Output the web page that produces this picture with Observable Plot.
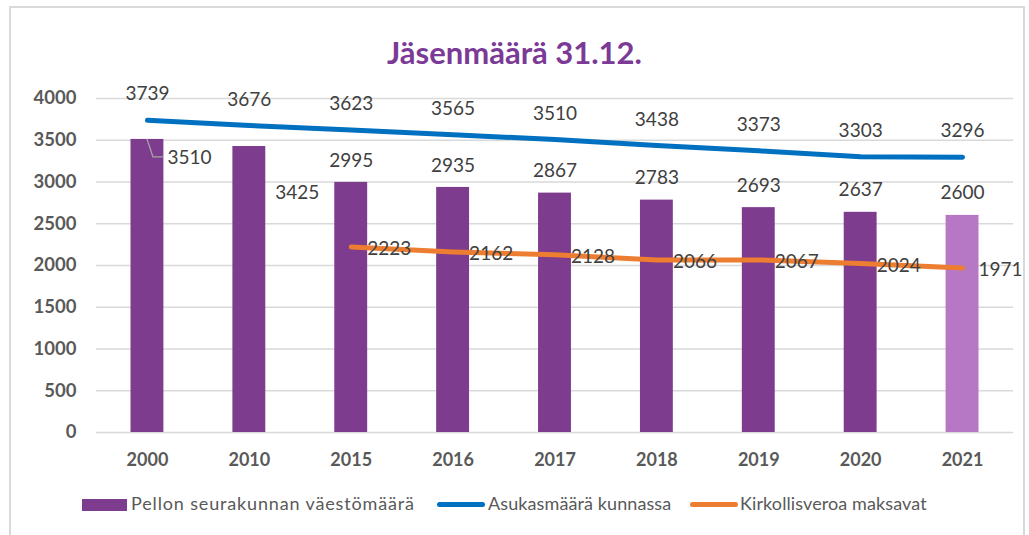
<!DOCTYPE html>
<html><head><meta charset="utf-8">
<script src="https://cdn.jsdelivr.net/npm/d3@7"></script>
<script src="https://cdn.jsdelivr.net/npm/@observablehq/plot@0.6"></script>
<style>
body{margin:0;background:#fff;}
#wrap{position:relative;width:1029px;height:535px;overflow:hidden;font-family:Lato,"Open Sans",sans-serif;background:#fff;}
#frame{position:absolute;left:9px;top:6px;width:1016px;height:600px;border:2px solid #d9d9d9;box-sizing:border-box;}
#title{position:absolute;left:0;width:1029px;top:32px;text-align:center;font-weight:bold;font-size:31px;color:#7b3a96;line-height:40px;}
#chart{position:absolute;left:0;top:0;}
.lg{position:absolute;top:492px;font-size:18px;color:#595959;line-height:22px;white-space:nowrap;}
.sw{position:absolute;}
</style>
</head><body>
<div id="wrap">
  <div id="frame"></div>
  <div id="chart"></div>
  <div id="title">Jäsenmäärä 31.12.</div>
  <div id="legend"></div>
</div>
<script>
const years = ["2000","2010","2015","2016","2017","2018","2019","2020","2021"];
const members = [3510,3425,2995,2935,2867,2783,2693,2637,2600];
const residents = [3739,3676,3623,3565,3510,3438,3373,3303,3296];
const taxpayers = [null,null,2223,2162,2128,2066,2067,2024,1971];
const yTicks = [0,500,1000,1500,2000,2500,3000,3500,4000];
const seriesNames = ["Pellon seurakunnan väestömäärä","Asukasmäärä kunnassa","Kirkollisveroa maksavat"];

const purple = "#7e3c8e", lightPurple = "#b677c5", blue = "#0070c0", orange = "#ed7d31";

const rows = years.map((year, i) => ({year, members: members[i], residents: residents[i], taxpayers: taxpayers[i]}));
const taxRows = rows.filter(d => d.taxpayers != null);

const leader = (index, scales) => {
  const ns = "http://www.w3.org/2000/svg";
  const x = scales.x("2000") + scales.x.bandwidth() / 2;
  const y = scales.y(members[0]);
  const p = document.createElementNS(ns, "path");
  p.setAttribute("d", `M${x},${y}L${x + 6},${y + 18}L${x + 16},${y + 18}`);
  p.setAttribute("fill", "none");
  p.setAttribute("stroke", "#a6a6a6");
  p.setAttribute("stroke-width", "1.3");
  return p;
};

const chart = Plot.plot({
  width: 1029,
  height: 535,
  marginTop: 98,
  marginBottom: 103,
  marginLeft: 96,
  marginRight: 16,
  style: {fontFamily: "Lato, 'Open Sans', sans-serif", fontSize: "18px", color: "#595959", background: "transparent", overflow: "visible"},
  x: {type: "band", domain: years, padding: 0, round: false},
  y: {domain: [0, 4000]},
  color: {type: "identity"},
  marks: [
    Plot.gridY(yTicks, {stroke: "#d9d9d9", strokeOpacity: 1, strokeWidth: 1.5}),
    Plot.axisY(yTicks, {tickSize: 0, tickPadding: 20, tickFormat: d => String(d), fontWeight: "bold", fontSize: 18.5, color: "#595959", label: null}),
    Plot.axisX({tickSize: 0, tickPadding: 21, fontWeight: "bold", fontSize: 18, color: "#595959", label: null}),
    Plot.barY(rows, {x: "year", y: "members", fill: d => d.year === "2021" ? lightPurple : purple, insetLeft: 34.5, insetRight: 34.5}),
    Plot.lineY(rows, {x: "year", y: "residents", stroke: blue, strokeWidth: 5, strokeLinecap: "round", strokeLinejoin: "round"}),
    Plot.lineY(taxRows, {x: "year", y: "taxpayers", stroke: orange, strokeWidth: 5, strokeLinecap: "round", strokeLinejoin: "round"}),
    Plot.text(rows, {x: "year", y: "residents", text: d => String(d.residents), dy: -26, fontSize: 19, fill: "#404040"}),
    Plot.text(rows.slice(2), {x: "year", y: "members", text: d => String(d.members), dy: -22, fontSize: 19, fill: "#404040"}),
    Plot.text(rows.slice(0, 1), {x: "year", y: "members", text: d => String(d.members), dx: 20, dy: 18, textAnchor: "start", fontSize: 19, fill: "#404040"}),
    Plot.text(rows.slice(1, 2), {x: "year", y: "members", text: d => String(d.members), dx: 48, dy: 46, fontSize: 19, fill: "#404040"}),
    Plot.text(taxRows, {x: "year", y: "taxpayers", text: d => String(d.taxpayers), dx: 16, dy: 2, textAnchor: "start", fontSize: 19, fill: "#404040"}),
    leader
  ]
});
document.getElementById("chart").appendChild(chart);

const legend = document.getElementById("legend");
const items = [
  {name: seriesNames[0], kind: "rect", color: purple, sx: 82, tx: 131, ls: "0.85px"},
  {name: seriesNames[1], kind: "line", color: blue, sx: 437, tx: 488, ls: "0.1px"},
  {name: seriesNames[2], kind: "line", color: orange, sx: 690, tx: 740, ls: "0.1px"}
];
for (const it of items) {
  const sw = document.createElement("div");
  sw.className = "sw";
  if (it.kind === "rect") {
    Object.assign(sw.style, {left: it.sx + "px", top: "499px", width: "45px", height: "12px", background: it.color});
  } else {
    Object.assign(sw.style, {left: it.sx + "px", top: "502px", width: "48px", height: "5px", background: it.color, borderRadius: "3px"});
  }
  legend.appendChild(sw);
  const t = document.createElement("div");
  t.className = "lg";
  t.style.left = it.tx + "px";
  t.style.letterSpacing = it.ls;
  t.textContent = it.name;
  legend.appendChild(t);
}
</script>
</body></html>
